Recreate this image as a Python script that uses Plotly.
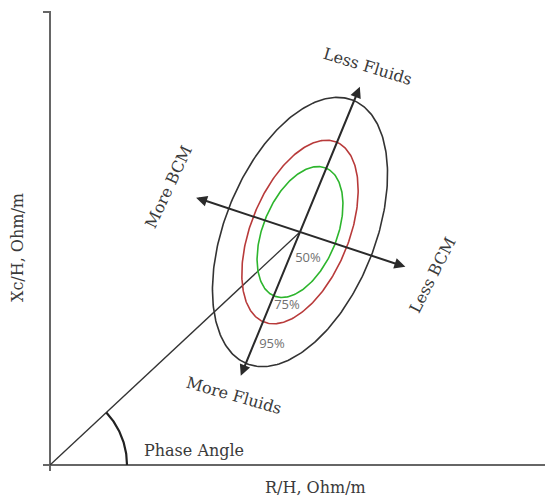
import numpy as np
import plotly.graph_objects as go

# ---- data (units: R/H and Xc/H, Ohm/m, arbitrary scale) ----
center_R = 250.0
center_Xc = 233.0
major_angle_deg = 68.0
level_labels = ["50%", "75%", "95%"]
semi_major = [69.0, 97.0, 142.0]
semi_minor = [37.0, 49.0, 75.0]
level_label_pos_R = [258.0, 237.0, 222.0]
level_label_pos_Xc = [206.0, 159.0, 120.0]
fluid_arrow_half_len = 157.0
fluid_arrow_angle_deg = 67.6
bcm_arrow_half_len = 111.0
bcm_arrow_angle_deg = -18.3
phase_arc_radius = 77.0
axis_R_max = 495.0
axis_Xc_max = 453.0

level_colors = ["#2db52d", "#b83a3a", "#333333"]
FONT_SERIF = "DejaVu Serif"

fig = go.Figure()

# axes drawn as lines
fig.add_trace(go.Scatter(x=[-7, axis_R_max + 50], y=[0, 0], mode="lines",
                         line=dict(color="#666666", width=2), hoverinfo="skip"))
fig.add_trace(go.Scatter(x=[-7, 0, 0], y=[axis_Xc_max, axis_Xc_max, -6], mode="lines",
                         line=dict(color="#666666", width=2), hoverinfo="skip"))

# phase angle line from origin to center
fig.add_trace(go.Scatter(x=[0, center_R], y=[0, center_Xc], mode="lines",
                         line=dict(color="#333333", width=1.3), hoverinfo="skip"))

# phase angle arc
phi = np.arctan2(center_Xc, center_R)
t = np.linspace(0, phi, 60)
fig.add_trace(go.Scatter(x=phase_arc_radius * np.cos(t), y=phase_arc_radius * np.sin(t),
                         mode="lines", line=dict(color="#222222", width=2.2), hoverinfo="skip"))

# tolerance ellipses
th = np.radians(major_angle_deg)
s = np.linspace(0, 2 * np.pi, 300)
for a, b, col in zip(semi_major, semi_minor, level_colors):
    ex = center_R + a * np.cos(s) * np.cos(th) - b * np.sin(s) * np.sin(th)
    ey = center_Xc + a * np.cos(s) * np.sin(th) + b * np.sin(s) * np.cos(th)
    fig.add_trace(go.Scatter(x=ex, y=ey, mode="lines",
                             line=dict(color=col, width=1.6), hoverinfo="skip"))

# percent labels
fig.add_trace(go.Scatter(x=level_label_pos_R, y=level_label_pos_Xc, mode="text",
                         text=level_labels,
                         textfont=dict(family="Open Sans", size=13, color="#707070"),
                         hoverinfo="skip"))

# arrows (double-headed) through center
def add_double_arrow(half_len, ang_deg):
    a = np.radians(ang_deg)
    x0 = center_R - half_len * np.cos(a)
    y0 = center_Xc - half_len * np.sin(a)
    x1 = center_R + half_len * np.cos(a)
    y1 = center_Xc + half_len * np.sin(a)
    fig.add_annotation(x=x1, y=y1, ax=x0, ay=y0, xref="x", yref="y", axref="x", ayref="y",
                       showarrow=True, arrowhead=2, arrowside="end+start", arrowsize=1.1,
                       arrowwidth=2, arrowcolor="#2a2a2a", text="")

add_double_arrow(fluid_arrow_half_len, fluid_arrow_angle_deg)
add_double_arrow(bcm_arrow_half_len, bcm_arrow_angle_deg)

# text labels
labels = [
    ("Less Fluids", 318, 399, 17),
    ("More Fluids", 184, 70, 16),
    ("More BCM", 118, 278, -65),
    ("Less BCM", 382, 190, -63),
    ("Phase Angle", 144, 15, 0),
]
for txt, x, y, ang in labels:
    fig.add_annotation(x=x, y=y, xref="x", yref="y", text=txt, showarrow=False,
                       textangle=ang, font=dict(family=FONT_SERIF, size=16, color="#3a3a3a"))

fig.add_annotation(x=265, y=-22, xref="x", yref="y", text="R/H, Ohm/m", showarrow=False,
                   font=dict(family=FONT_SERIF, size=16, color="#3a3a3a"))
fig.add_annotation(x=-33, y=217, xref="x", yref="y", text="Xc/H, Ohm/m", showarrow=False,
                   textangle=-90, font=dict(family=FONT_SERIF, size=16, color="#3a3a3a"))

fig.update_layout(
    width=545, height=497,
    margin=dict(l=0, r=0, t=0, b=0),
    paper_bgcolor="white", plot_bgcolor="white",
    showlegend=False,
    xaxis=dict(range=[-50, 495], visible=False, fixedrange=True),
    yaxis=dict(range=[-32, 465], visible=False, fixedrange=True),
)

fig.write_html("out.html")
